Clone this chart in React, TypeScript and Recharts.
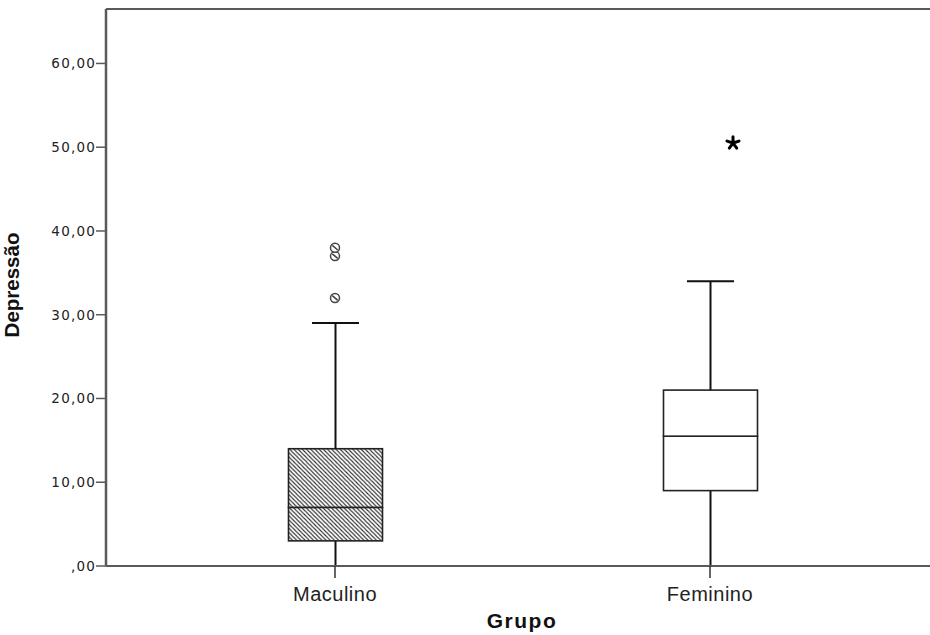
import { ComposedChart, Bar, Scatter, XAxis, YAxis, ReferenceLine, Label } from 'recharts'

// box plot summary
const groups = ['Maculino', 'Feminino']
const whiskerLow = [0, 0]
const q1 = [3, 9]
const median = [7, 15.5]
const q3 = [14, 21]
const whiskerHigh = [29, 34]
const outliers: number[][] = [[32, 37, 38], []]
const extremes: number[][] = [[], [50.5]]
const yTicks = [0, 10, 20, 30, 40, 50, 60]
const yMax = 66.5

const data = groups.map((name, i) => ({
  name,
  base: whiskerLow[i],
  lowW: q1[i] - whiskerLow[i],
  lowBox: median[i] - q1[i],
  highBox: q3[i] - median[i],
  highW: whiskerHigh[i] - q3[i],
  o1: outliers[i][0],
  o2: outliers[i][1],
  o3: outliers[i][2],
  e1: extremes[i][0],
}))

const AXIS = '#5a5a5a'

function whisker(cap: 'top' | 'bottom') {
  return (props: any) => {
    const { x, y, width, height } = props
    if (!Number.isFinite(y)) return <g />
    const cx = x + width / 2
    const capY = cap === 'top' ? y : y + height
    return (
      <g>
        <line x1={cx} x2={cx} y1={y} y2={y + height} stroke="#111" strokeWidth={2} />
        <line x1={cx - width / 4} x2={cx + width / 4} y1={capY} y2={capY} stroke="#111" strokeWidth={2} />
      </g>
    )
  }
}

function BoxPart(props: any) {
  const { x, y, width, height, index } = props
  if (!Number.isFinite(y)) return <g />
  const pid = `hatch-${index}-${Math.round(y)}`
  return (
    <g>
      <defs>
        <pattern id={pid} patternUnits="userSpaceOnUse" width={4.2} height={4.2}>
          <rect width={4.2} height={4.2} fill="#fff" />
          <path d="M-1,-1 L5.2,5.2 M-1,3.2 L1,5.2 M3.2,-1 L5.2,1" stroke="#2a2a2a" strokeWidth={1.05} />
        </pattern>
      </defs>
      <rect
        x={x}
        y={y}
        width={width}
        height={height}
        fill={index === 0 ? `url(#${pid})` : '#fff'}
        stroke="#222"
        strokeWidth={1.6}
      />
    </g>
  )
}

function OutlierDot(props: any) {
  const { cx, cy } = props
  if (!Number.isFinite(cy)) return <g />
  return (
    <g>
      <circle cx={cx} cy={cy} r={4.5} fill="#fff" stroke="#444" strokeWidth={1.5} />
      <line x1={cx - 2.7} y1={cy - 2.3} x2={cx + 2.7} y2={cy + 2.3} stroke="#444" strokeWidth={1.6} />
    </g>
  )
}

function ExtremeStar(props: any) {
  const { cx, cy } = props
  if (!Number.isFinite(cy)) return <g />
  const sx = cx + 23
  const arms = [-90, -18, 54, 126, 198].map((a) => {
    const r = (a * Math.PI) / 180
    return `M${sx},${cy} L${sx + 6.3 * Math.cos(r)},${cy + 6.3 * Math.sin(r)}`
  })
  return <path d={arms.join(' ')} stroke="#000" strokeWidth={3} strokeLinecap="round" />
}

function YTick(props: any) {
  const { x, y, payload } = props
  const v = payload.value
  return (
    <text x={x} y={y} dy="0.36em" textAnchor="end" fontFamily="DejaVu Sans" fontSize={13.5} letterSpacing={1.2} fill="#222">
      {v === 0 ? ',00' : `${v},00`}
    </text>
  )
}

function XTick(props: any) {
  const { x, y, payload } = props
  return (
    <text x={x} y={y} dy={21} textAnchor="middle" fontFamily="Liberation Sans" fontSize={20} letterSpacing={0.5} fill="#222">
      {payload.value}
    </text>
  )
}

export default function App() {
  return (
    <div style={{ position: 'absolute', left: 0, top: 0, width: 930, height: 635, overflow: 'hidden', background: '#fff' }}>
      <ComposedChart width={945} height={635} data={data} margin={{ top: 9, right: 5, left: 0, bottom: 0 }}>
        <XAxis
          dataKey="name"
          type="category"
          padding={{ left: 41.5, right: 42.5 }}
          height={69}
          tick={<XTick />}
          tickSize={12}
          axisLine={{ stroke: AXIS, strokeWidth: 2 }}
          tickLine={{ stroke: '#333', strokeWidth: 1.5 }}
        >
          <Label
            content={() => (
              <text x={522} y={628} textAnchor="middle" fontFamily="Liberation Sans" fontWeight="bold" fontSize={21} letterSpacing={1.5} fill="#111">
                Grupo
              </text>
            )}
          />
        </XAxis>
        <YAxis
          type="number"
          domain={[0, yMax]}
          ticks={yTicks}
          width={106}
          tick={<YTick />}
          tickSize={10}
          tickMargin={0}
          axisLine={{ stroke: AXIS, strokeWidth: 2.5 }}
          tickLine={{ stroke: AXIS, strokeWidth: 1.5 }}
        >
          <Label
            content={() => (
              <text x={19} y={285} transform="rotate(-90 19 285)" textAnchor="middle" fontFamily="Liberation Sans" fontWeight="bold" fontSize={20.5} fill="#111">
                Depressão
              </text>
            )}
          />
        </YAxis>
        <ReferenceLine y={yMax} stroke={AXIS} strokeWidth={2} />
        <Bar dataKey="base" stackId="box" barSize={94} shape={() => <g />} isAnimationActive={false} />
        <Bar dataKey="lowW" stackId="box" barSize={94} shape={whisker('bottom')} isAnimationActive={false} />
        <Bar dataKey="lowBox" stackId="box" barSize={94} shape={<BoxPart />} isAnimationActive={false} />
        <Bar dataKey="highBox" stackId="box" barSize={94} shape={<BoxPart />} isAnimationActive={false} />
        <Bar dataKey="highW" stackId="box" barSize={94} shape={whisker('top')} isAnimationActive={false} />
        <Scatter dataKey="o1" shape={<OutlierDot />} isAnimationActive={false} />
        <Scatter dataKey="o2" shape={<OutlierDot />} isAnimationActive={false} />
        <Scatter dataKey="o3" shape={<OutlierDot />} isAnimationActive={false} />
        <Scatter dataKey="e1" shape={<ExtremeStar />} isAnimationActive={false} />
      </ComposedChart>
    </div>
  )
}
